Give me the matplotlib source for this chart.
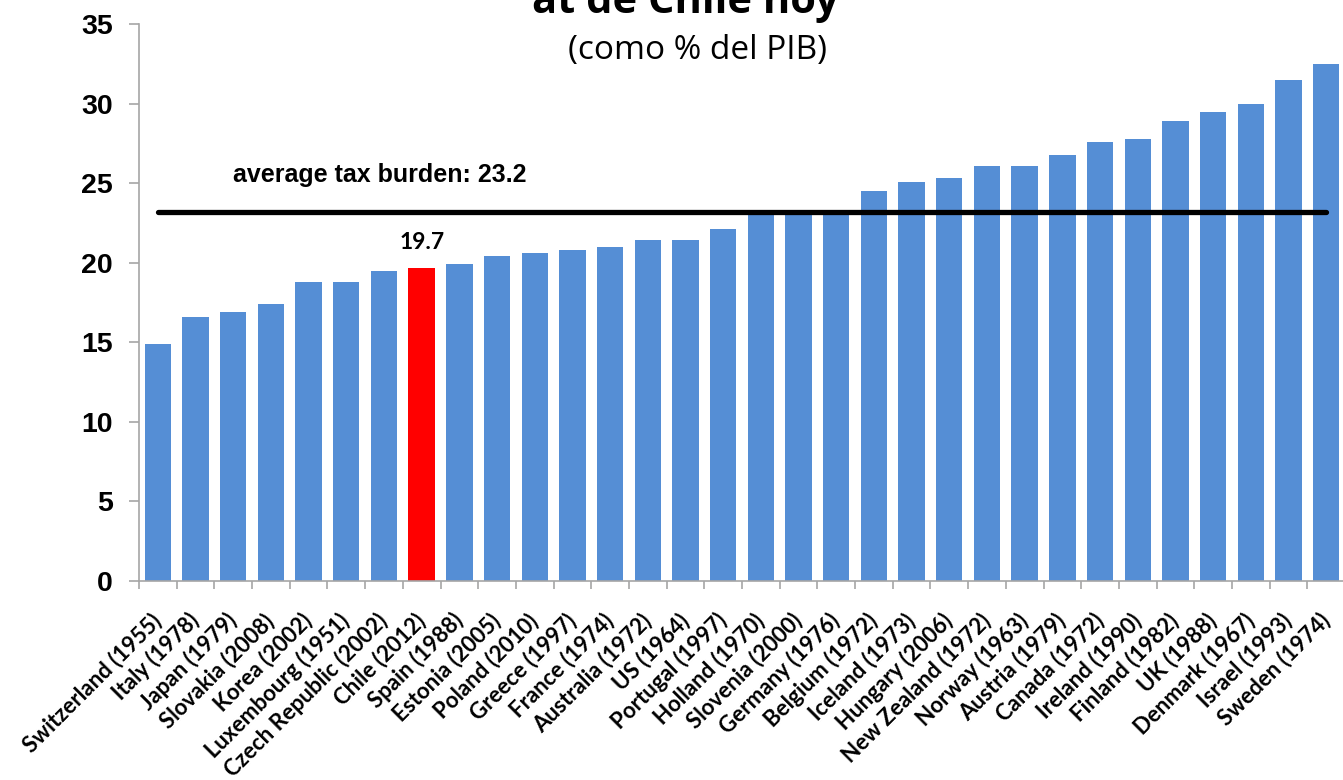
import matplotlib
matplotlib.use("Agg")
import matplotlib.pyplot as plt
import numpy as np

countries = ["Switzerland (1955)", "Italy (1978)", "Japan (1979)", "Slovakia (2008)",
             "Korea (2002)", "Luxembourg (1951)", "Czech Republic (2002)", "Chile (2012)",
             "Spain (1988)", "Estonia (2005)", "Poland (2010)", "Greece (1997)",
             "France (1974)", "Australia (1972)", "US (1964)", "Portugal (1997)",
             "Holland (1970)", "Slovenia (2000)", "Germany (1976)", "Belgium (1972)",
             "Iceland (1973)", "Hungary (2006)", "New Zealand (1972)", "Norway (1963)",
             "Austria (1979)", "Canada (1972)", "Ireland (1990)", "Finland (1982)",
             "UK (1988)", "Denmark (1967)", "Israel (1993)", "Sweden (1974)"]
values = [14.9, 16.6, 16.9, 17.4, 18.8, 18.8, 19.5, 19.7, 19.9, 20.4, 20.6, 20.8,
          21.0, 21.4, 21.4, 22.1, 23.1, 23.1, 23.1, 24.5, 25.1, 25.3, 26.1, 26.1,
          26.8, 27.6, 27.8, 28.9, 29.5, 30.0, 31.5, 32.5]
highlight = "Chile (2012)"
average = 23.2
avg_label = "average tax burden: 23.2"
yticks = [0, 5, 10, 15, 20, 25, 30, 35]
title_text = "at de Chile hoy"
subtitle_text = "(como % del PIB)"

blue = "#558ED5"
red = "#FF0000"
gray = "#A6A6A6"

fig = plt.figure(figsize=(13.43, 7.8), dpi=100)
ax = fig.add_axes([0.1035, 0.2551, 0.8980, 0.7141])

x = np.arange(len(countries))
colors = [red if c == highlight else blue for c in countries]
ax.bar(x, values, width=0.7, color=colors, zorder=2)

ax.plot([x[0], x[-1]], [average, average], color="black", lw=3.8,
        solid_capstyle="round", zorder=3)
ax.text(2.0, 25.5, avg_label, fontsize=18, fontweight="bold",
        family="Liberation Sans", ha="left", va="center", zorder=4)

hi = countries.index(highlight)
ax.text(hi, values[hi] + 0.9, f"{values[hi]:.1f}", fontsize=16.5, fontweight="bold",
        family="Lato", ha="center", va="bottom", zorder=4)

ax.set_xlim(-0.5, len(countries) - 0.5)
ax.set_ylim(0, 35)
ax.set_yticks(yticks)
ax.set_yticklabels([str(t) for t in yticks], fontsize=20.5, fontweight="bold",
                   family="Liberation Sans")

ax.set_xticks(x)
ax.set_xticklabels(countries, rotation=45, ha="right", va="center",
                   rotation_mode="anchor",
                   fontsize=16, fontweight="bold", family="Lato")
ax.set_xticks(np.arange(-0.5, len(countries), 1.0), minor=True)
ax.tick_params(axis="x", which="major", length=0, pad=26)
ax.tick_params(axis="x", which="minor", length=6, color=gray, width=1.2)
ax.tick_params(axis="y", which="major", length=7, color=gray, width=1.2, pad=12)

for s in ["top", "right"]:
    ax.spines[s].set_visible(False)
for s in ["left", "bottom"]:
    ax.spines[s].set_color(gray)
    ax.spines[s].set_linewidth(1.2)

fig.text(0.510, 1 - 13 / 780, title_text, fontsize=30, fontweight="bold",
         family="Open Sans", ha="center", va="baseline")
fig.text(0.5195, 1 - 50 / 780, subtitle_text, fontsize=24,
         family="Open Sans", ha="center", va="center")

fig.savefig("out.png", dpi=100)
